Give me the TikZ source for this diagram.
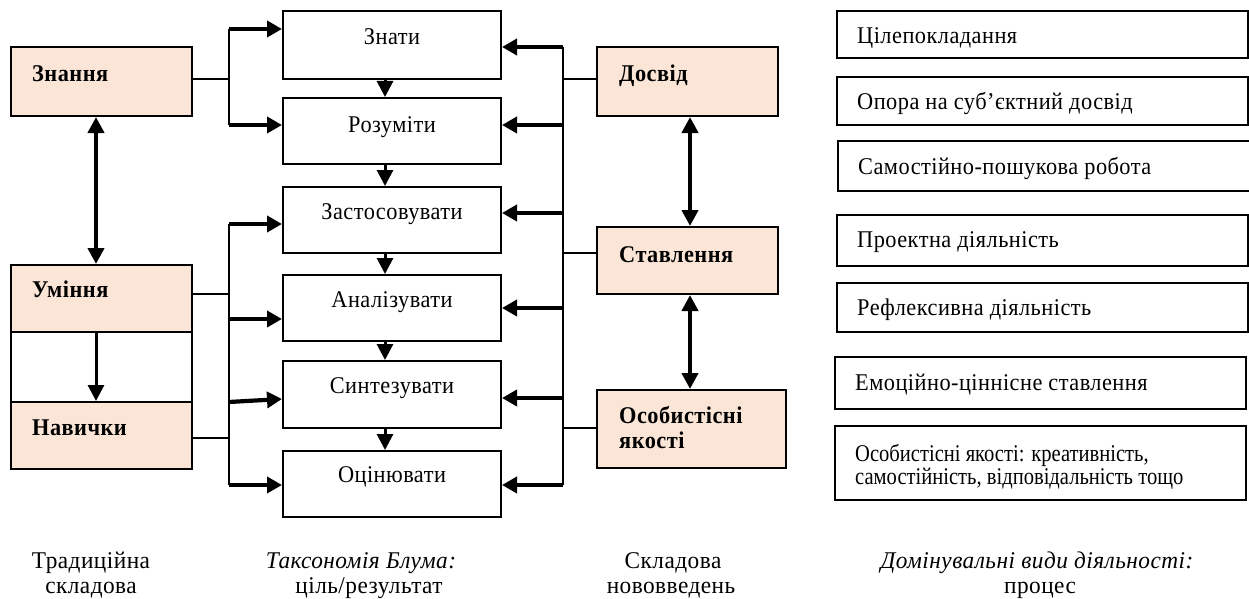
\documentclass[tikz,border=0pt]{standalone}
\usepackage{fontspec}
\setmainfont{Liberation Serif}
\newfontfamily\spcfont[LetterSpace=2,FakeStretch=0.93]{Liberation Serif}
\newfontfamily\capfont[LetterSpace=2,FakeStretch=0.97]{Liberation Serif}
\newfontfamily\cndfont[FakeStretch=0.857]{Liberation Serif}
\usetikzlibrary{arrows.meta}
\definecolor{peach}{HTML}{FBE5D6}
\begin{document}
\begin{tikzpicture}[x=1pt,y=-1pt,
  every node/.style={font=\fontsize{24}{26}\selectfont\spcfont},
  boxn/.style={draw, line width=2pt, inner sep=0pt, rectangle},
  pbox/.style={boxn, fill=peach},
  txtl/.style={anchor=base west, inner sep=0pt},
  txtc/.style={anchor=base, inner sep=0pt},
  bold/.style={font=\fontsize{24}{26}\selectfont\spcfont\bfseries},
  capt/.style={txtc, font=\fontsize{24}{26}\selectfont\capfont},
  capti/.style={txtc, font=\fontsize{24}{26}\selectfont\capfont\itshape},
  thin/.style={line width=1.7pt},
  vline/.style={line width=2.3pt},
  arr/.style={line width=4.2pt, -{Triangle[length=15pt,width=16pt]}},
  darr/.style={line width=4pt, {Triangle[length=16pt,width=16pt]}-{Triangle[length=16pt,width=16pt]}},
  sarr/.style={line width=3pt, -{Triangle[length=16pt,width=16pt]}},
]
\useasboundingbox[fill=white] (0,0) rectangle (1249,599);

% ---- left column
\node[pbox, minimum width=181pt, minimum height=69pt] (zn) at (101.5,81.5) {};
\node[pbox, minimum width=181pt, minimum height=67pt] (um) at (101.5,298.5) {};
\node[boxn, minimum width=181pt, minimum height=70pt] (gap) at (101.5,367) {};
\node[pbox, minimum width=181pt, minimum height=67pt] (nav) at (101.5,435.5) {};
\node[txtl, bold] (tzn) at (32,82) {Знання};
\node[txtl, bold] (tum) at (32,297) {Уміння};
\node[txtl, bold] (tnav) at (32,435) {Навички};

% ---- middle column
\foreach \n/\y/\h in {zt/45/68, rz/131/66, zs/220/66, an/308/66, sn/394.5/67, oc/484/66}{
  \node[boxn, minimum width=218pt, minimum height=\h pt] (\n) at (392,\y) {};
}
\node[txtc] (tzt) at (392,45) {Знати};
\node[txtc] (trz) at (392,132) {Розуміти};
\node[txtc] (tzs) at (392,219) {Застосовувати};
\node[txtc] (tan) at (392,307) {Аналізувати};
\node[txtc] (tsn) at (392,393) {Синтезувати};
\node[txtc] (toc) at (392,482) {Оцінювати};

% ---- right column (innovations)
\node[pbox, minimum width=181pt, minimum height=69pt] (ds) at (687.5,81.5) {};
\node[pbox, minimum width=181pt, minimum height=67pt] (st) at (687.5,260.5) {};
\node[pbox, minimum width=189pt, minimum height=78pt] (os) at (691.5,429) {};
\node[txtl, bold] (tds) at (619,82) {Досвід};
\node[txtl, bold] (tst) at (619,262) {Ставлення};
\node[txtl, bold] (tos1) at (619,423) {Особистісні};
\node[txtl, bold] (tos2) at (619,448) {якості};

% ---- far right boxes
\node[boxn, minimum width=411pt, minimum height=47pt] (r1) at (1042.5,34.5) {};
\node[boxn, minimum width=411pt, minimum height=48pt] (r2) at (1042.5,101) {};
\node[boxn, minimum width=424pt, minimum height=50pt] (r3) at (1050,166) {};
\node[boxn, minimum width=411pt, minimum height=51pt] (r4) at (1042.5,240.5) {};
\node[boxn, minimum width=411pt, minimum height=49pt] (r5) at (1042.5,307.5) {};
\node[boxn, minimum width=411pt, minimum height=52pt] (r6) at (1040.5,383) {};
\node[boxn, minimum width=411pt, minimum height=74pt] (r7) at (1040.5,463) {};
\node[txtl] (tr1) at (857,44) {Цілепокладання};
\node[txtl] (tr2) at (857,110) {Опора на суб’єктний досвід};
\node[txtl] (tr3) at (858,174) {Самостійно-пошукова робота};
\node[txtl] (tr4) at (857,247) {Проектна діяльність};
\node[txtl] (tr5) at (857,315) {Рефлексивна діяльність};
\node[txtl] (tr6) at (855,390) {Емоційно-ціннісне ставлення};
\node[txtl, font=\fontsize{24}{24}\selectfont\cndfont] (tr7a) at (855,461) {Особистісні якості: креативність,};
\node[txtl, font=\fontsize{24}{24}\selectfont\cndfont] (tr7b) at (855,484) {самостійність, відповідальність тощо};

% ---- captions
\node[capt] (c1a) at (91,568) {Традиційна};
\node[capt] (c1b) at (91,593) {складова};
\node[capti] (c2a) at (361,568) {Таксономія Блума:};
\node[capt] (c2b) at (369,593) {ціль/результат};
\node[capt] (c3a) at (673,568) {Складова};
\node[capt] (c3b) at (671,593) {нововведень};
\node[capti] (c4a) at (1037,568) {Домінувальні види діяльності:};
\node[capt] (c4b) at (1040,593) {процес};

% ---- junction coordinates
\coordinate (jL1a) at (229,29);
\coordinate (jL1b) at (229,125);
\coordinate (jL1m) at (229,79);
\coordinate (jL2a) at (229,224);
\coordinate (jL2b) at (229,319);
\coordinate (jL2c) at (229,402);
\coordinate (jL2d) at (229,485);
\coordinate (jL2m) at (229,294);
\coordinate (jL2n) at (229,438);
\coordinate (jR1) at (563,47);
\coordinate (jR2) at (563,125);
\coordinate (jR3) at (563,213);
\coordinate (jR4) at (563,308);
\coordinate (jR5) at (563,398);
\coordinate (jR6) at (563,485);
\coordinate (jRd) at (563,79);
\coordinate (jRs) at (563,253);
\coordinate (jRo) at (563,428);

% left connectors
\draw[thin] (zn.east |- jL1m) -- (jL1m);
\draw[vline] (jL1a) -- (jL1b);
\draw[arr] (jL1a) -- (zt.west |- jL1a);
\draw[arr] (jL1b) -- (rz.west |- jL1b);
\draw[thin] (um.east |- jL2m) -- (jL2m);
\draw[thin] (nav.east |- jL2n) -- (jL2n);
\draw[vline] (jL2a) -- (jL2d);
\draw[arr] (jL2a) -- (zs.west |- jL2a);
\draw[arr] (jL2b) -- (an.west |- jL2b);
\draw[arr] (jL2c) -- ([yshift=3pt]sn.west |- jL2c);
\draw[arr] (jL2d) -- (oc.west |- jL2d);

% right connectors
\draw[vline] (jR1) -- (jR6);
\draw[thin] (ds.west |- jRd) -- (jRd);
\draw[thin] (st.west |- jRs) -- (jRs);
\draw[thin] (os.west |- jRo) -- (jRo);
\draw[arr] (jR1) -- (zt.east |- jR1);
\draw[arr] (jR2) -- (rz.east |- jR2);
\draw[arr] (jR3) -- (zs.east |- jR3);
\draw[arr] (jR4) -- (an.east |- jR4);
\draw[arr] (jR5) -- (sn.east |- jR5);
\draw[arr] (jR6) -- (oc.east |- jR6);

% vertical arrows
\draw[darr] (zn.south -| 96,0) -- (um.north -| 96,0);
\draw[sarr] (um.south -| 96,0) -- (nav.north -| 96,0);
\draw[darr] (ds.south -| 690,0) -- (st.north -| 690,0);
\draw[darr] (st.south -| 690,0) -- (os.north -| 690,0);

\foreach \a/\b in {zt/rz, rz/zs, zs/an, an/sn, sn/oc}{
  \draw[sarr] (\a.south -| 385,0) -- (\b.north -| 385,0);
}
\end{tikzpicture}
\end{document}
